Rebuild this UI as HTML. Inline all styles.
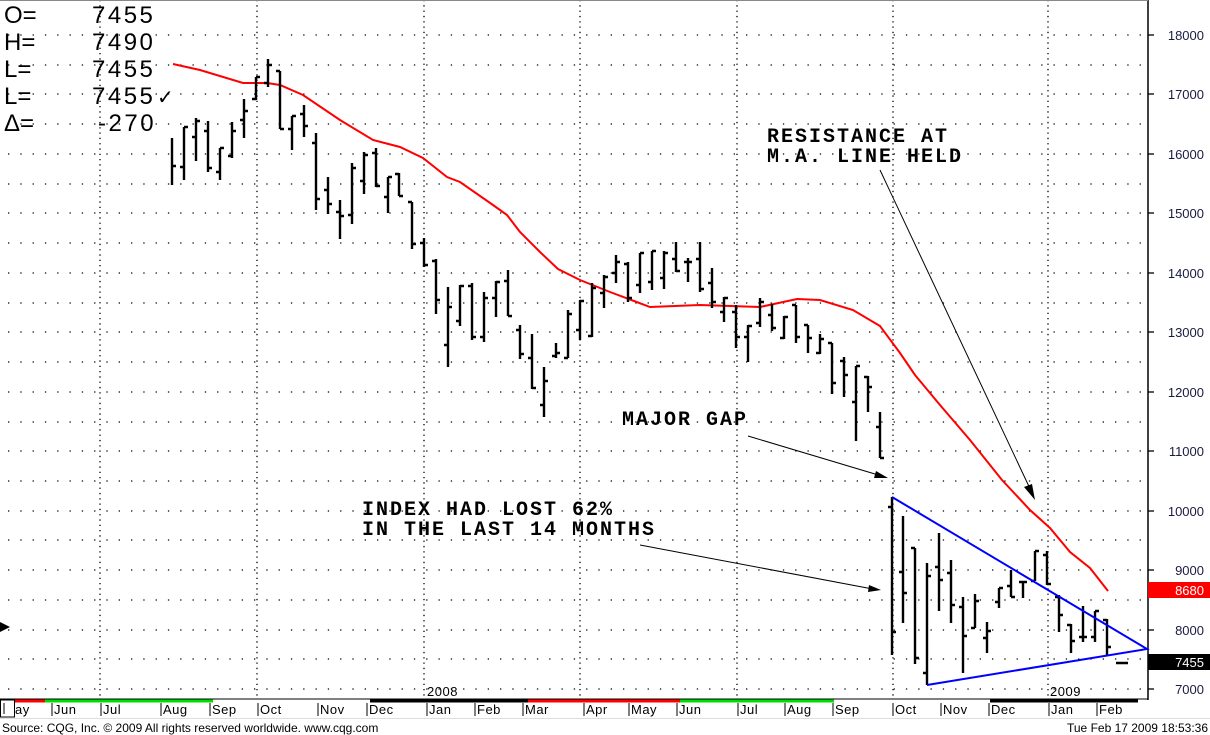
<!DOCTYPE html>
<html><head><meta charset="utf-8"><style>
html,body{margin:0;padding:0;background:#fff;width:1210px;height:735px;overflow:hidden}
svg{display:block}
.ann{font-family:"Liberation Mono",monospace;font-size:20px;font-weight:bold;letter-spacing:2px;fill:#000}
.ax{font-family:"Liberation Sans",sans-serif;font-size:13px;fill:#1a1a40}
.mo{font-family:"Liberation Sans",sans-serif;font-size:13px;fill:#000;letter-spacing:0.5px}
.ohl{font-family:"Liberation Sans",sans-serif;font-size:24px;fill:#000}
.ohv{letter-spacing:2.5px}
</style></head><body>
<svg width="1210" height="735" viewBox="0 0 1210 735" xmlns="http://www.w3.org/2000/svg">
<rect x="0" y="0" width="1210" height="735" fill="#fff"/>
<g stroke="#000" stroke-width="1.3" stroke-dasharray="1.3 4">
<line x1="100" y1="0" x2="100" y2="698"/><line x1="257" y1="0" x2="257" y2="698"/>
<line x1="424" y1="0" x2="424" y2="698"/><line x1="580" y1="0" x2="580" y2="698"/>
<line x1="737" y1="0" x2="737" y2="698"/><line x1="893" y1="0" x2="893" y2="698"/>
<line x1="1048" y1="0" x2="1048" y2="698"/>
</g>
<g stroke="#000" stroke-width="1.3" stroke-dasharray="1.3 11">
<line x1="8" y1="35" x2="1146" y2="35"/><line x1="8" y1="65" x2="1146" y2="65"/>
<line x1="8" y1="94" x2="1146" y2="94"/><line x1="8" y1="124" x2="1146" y2="124"/>
<line x1="8" y1="154" x2="1146" y2="154"/><line x1="8" y1="184" x2="1146" y2="184"/>
<line x1="8" y1="213" x2="1146" y2="213"/><line x1="8" y1="243" x2="1146" y2="243"/>
<line x1="8" y1="273" x2="1146" y2="273"/><line x1="8" y1="303" x2="1146" y2="303"/>
<line x1="8" y1="332" x2="1146" y2="332"/><line x1="8" y1="362" x2="1146" y2="362"/>
<line x1="8" y1="392" x2="1146" y2="392"/><line x1="8" y1="422" x2="1146" y2="422"/>
<line x1="8" y1="451" x2="1146" y2="451"/><line x1="8" y1="481" x2="1146" y2="481"/>
<line x1="8" y1="511" x2="1146" y2="511"/><line x1="8" y1="540" x2="1146" y2="540"/>
<line x1="8" y1="570" x2="1146" y2="570"/><line x1="8" y1="600" x2="1146" y2="600"/>
<line x1="8" y1="630" x2="1146" y2="630"/><line x1="8" y1="659" x2="1146" y2="659"/>
<line x1="8" y1="689" x2="1146" y2="689"/>
</g>
<line x1="1148" y1="0" x2="1148" y2="700" stroke="#000" stroke-width="1.5"/>
<line x1="0" y1="0.5" x2="1148" y2="0.5" stroke="#888" stroke-width="1"/>
<line x1="0" y1="699" x2="1148" y2="699" stroke="#000" stroke-width="1"/>
<g stroke="#000" stroke-width="1.3">
<line x1="1148" y1="35" x2="1154" y2="35"/><line x1="1148" y1="94" x2="1154" y2="94"/>
<line x1="1148" y1="154" x2="1154" y2="154"/><line x1="1148" y1="213" x2="1154" y2="213"/>
<line x1="1148" y1="273" x2="1154" y2="273"/><line x1="1148" y1="332" x2="1154" y2="332"/>
<line x1="1148" y1="392" x2="1154" y2="392"/><line x1="1148" y1="451" x2="1154" y2="451"/>
<line x1="1148" y1="511" x2="1154" y2="511"/><line x1="1148" y1="570" x2="1154" y2="570"/>
<line x1="1148" y1="630" x2="1154" y2="630"/><line x1="1148" y1="689" x2="1154" y2="689"/>
</g>
<g class="ax" text-anchor="end">
<text x="1204" y="40">18000</text><text x="1204" y="99">17000</text>
<text x="1204" y="159">16000</text><text x="1204" y="218">15000</text>
<text x="1204" y="278">14000</text><text x="1204" y="337">13000</text>
<text x="1204" y="397">12000</text><text x="1204" y="456">11000</text>
<text x="1204" y="516">10000</text><text x="1204" y="575">9000</text>
<text x="1204" y="635">8000</text><text x="1204" y="694">7000</text>
</g>
<rect x="1148" y="582" width="62" height="16" fill="#f00"/>
<text x="1204" y="595" text-anchor="end" font-family="Liberation Sans,sans-serif" font-size="13" fill="#fff">8680</text>
<rect x="1148" y="654" width="62" height="16" fill="#000"/>
<text x="1204" y="667" text-anchor="end" font-family="Liberation Sans,sans-serif" font-size="13" fill="#fff">7455</text>
<polyline fill="none" stroke="#f00" stroke-width="2" points="173,64 200,70 243,83 267,83 280,85 303,95 340,120 373,140 400,147 423,158 447,177 460,182 493,205 507,215 520,232 540,252 558,269 580,280 610,292 650,307 700,305 760,307 797,299 820,300 853,310 880,326 900,353 915,375 940,405 970,440 1002,480 1030,510 1050,528 1070,552 1090,568 1108,591"/>
<path fill="none" stroke="#000" stroke-width="2.4" d="
M172 138V185M172 166H176
M184 127V180M180 167H184M184 127H188
M196 118V161M192 137H196M196 121H200
M208 121V172M204 131H208M208 168H212
M220 148V180M216 172H220M220 148H224
M232 122V158M228 156H232M232 131H236
M244 99V138M240 120H244M244 111H248
M256 77V100M252 99H256M256 77H260
M268 59V87M264 83H268M268 65H272
M280 71V129M276 71H280M280 129H284
M292 116V150M288 129H292M292 116H296
M304 105V137M300 114H304M304 126H308
M316 133V210M312 143H316M316 199H320
M328 177V214M324 190H328M328 204H332
M340 200V239M336 212H340M340 216H344
M352 163V224M348 215H352M352 168H356
M364 152V194M360 181H364M364 155H368
M376 148V187M372 153H376M376 186H380
M388 177V213M384 197H388M388 177H392
M399 173V196M395 174H399M399 196H403
M412 202V249M408 202H412M412 244H416
M424 238V267M420 243H424M424 265H428
M436 259V314M432 261H436M436 300H440
M448 287V367M444 345H448M448 307H452
M460 285V326M456 321H460M460 286H464
M472 283V340M468 286H472M472 337H476
M484 292V342M480 337H484M484 298H488
M496 281V317M492 298H496M496 282H500
M508 270V316M504 281H508M508 316H512
M520 325V359M516 330H520M520 354H524
M532 334V389M528 358H532M532 388H536
M544 367V417M540 405H544M544 381H548
M556 343V358M552 356H556M556 353H560
M568 310V358M564 358H568M568 314H572
M580 300V340M576 330H580M580 301H584
M592 283V337M588 336H592M592 288H596
M604 275V308M600 293H604M604 277H608
M616 255V283M612 273H616M616 262H620
M628 262V302M624 264H628M628 298H632
M640 253V293M636 285H640M640 253H644
M652 251V290M648 282H652M652 251H656
M664 251V289M660 278H664M664 253H668
M676 242V272M672 259H676M676 271H680
M688 258V282M684 262H688M688 262H692
M700 242V292M696 259H700M700 289H704
M712 268V308M708 283H712M712 302H716
M724 297V322M720 312H724M724 298H728
M736 305V348M732 312H736M736 337H740
M748 325V362M744 337H748M748 326H752
M760 298V327M756 323H760M760 302H764
M772 304V331M768 315H772M772 328H776
M784 316V339M780 338H784M784 317H788
M796 305V343M792 305H796M796 337H800
M808 325V353M804 325H808M808 338H812
M820 334V354M816 353H820M820 339H824
M832 343V394M828 343H832M832 383H836
M844 357V397M840 361H844M844 375H848
M856 366V441M852 402H856M856 366H860
M868 376V412M864 377H868M868 387H872
M880 412V458M876 427H880M880 458H884
M892 497V655M888 507H892M892 632H896
M903 516V623M899 572H903M903 593H907
M915 548V664M911 548H915M915 658H919
M927 563V685M923 673H927M927 576H931
M939 533V611M935 567H939M939 580H943
M951 560V623M947 573H951M951 605H955
M963 597V673M959 607H963M963 636H967
M975 594V628M971 628H975M975 601H979
M987 622V653M983 638H987M987 631H991
M999 588V608M995 602H999M999 588H1003
M1011 570V597M1007 586H1011M1011 597H1015
M1023 582V598M1019 582H1027
M1035 551V581M1031 581H1035M1035 551H1039
M1047 551V585M1043 555H1047M1047 584H1051
M1059 595V632M1055 597H1059M1059 615H1063
M1071 624V653M1067 625H1071M1071 641H1075
M1083 606V642M1079 637H1087
M1095 611V642M1091 637H1095M1095 611H1099
M1107 619V655M1103 620H1107M1107 647H1111
M1116 663H1128"/>
<polyline fill="none" stroke="#00f" stroke-width="2" points="892,497 1147,649 927,685"/>
<g stroke="#000" stroke-width="1" fill="none">
<line x1="880" y1="170" x2="1033" y2="495"/>
<line x1="748" y1="436" x2="885" y2="477"/>
<line x1="640" y1="545" x2="878" y2="590"/>
</g>
<g fill="#000">
<polygon points="1035,500 1024,487 1032,484"/>
<polygon points="888,478 874,478 876,471"/>
<polygon points="881,590 868,592 869,585"/>
<polygon points="0,622 10,627 0,632"/>
</g>
<text class="ann" x="767" y="142">RESISTANCE AT</text>
<text class="ann" x="767" y="162">M.A. LINE HELD</text>
<text class="ann" x="622" y="425">MAJOR GAP</text>
<text class="ann" x="362" y="515">INDEX HAD LOST 62%</text>
<text class="ann" x="362" y="535">IN THE LAST 14 MONTHS</text>
<g class="ohl">
<text x="4" y="23">O=</text><text x="4" y="50">H=</text><text x="4" y="77">L=</text><text x="4" y="104">L=</text><text x="4" y="131">Δ=</text>
</g>
<g class="ohl ohv">
<text x="92" y="23">7455</text><text x="92" y="50">7490</text><text x="92" y="77">7455</text><text x="92" y="104">7455</text><text x="98" y="131">-270</text>
</g>
<text x="157" y="104" font-family="DejaVu Sans,sans-serif" font-size="20" fill="#000">✓</text>
<text x="427" y="696" class="mo">2008</text>
<text x="1050" y="696" class="mo">2009</text>
<g stroke-width="3">
<line x1="14" y1="701" x2="45" y2="701" stroke="#f00"/>
<line x1="45" y1="701" x2="213" y2="701" stroke="#0d0"/>
<line x1="213" y1="701" x2="370" y2="701" stroke="#fff"/>
<line x1="370" y1="701" x2="528" y2="701" stroke="#000"/>
<line x1="528" y1="701" x2="680" y2="701" stroke="#f00"/>
<line x1="680" y1="701" x2="834" y2="701" stroke="#0d0"/>
<line x1="834" y1="701" x2="990" y2="701" stroke="#fff"/>
<line x1="990" y1="701" x2="1138" y2="701" stroke="#000"/>
</g>
<rect x="0.5" y="700" width="14" height="17" fill="#fff" stroke="#000" stroke-width="1"/>
<line x1="4" y1="703" x2="4" y2="714" stroke="#000" stroke-width="1"/>
<g stroke="#000" stroke-width="1">
<line x1="52" y1="703" x2="52" y2="716"/><line x1="101" y1="703" x2="101" y2="716"/>
<line x1="161" y1="703" x2="161" y2="716"/><line x1="210" y1="703" x2="210" y2="716"/>
<line x1="258" y1="703" x2="258" y2="716"/><line x1="318" y1="703" x2="318" y2="716"/>
<line x1="367" y1="703" x2="367" y2="716"/><line x1="427" y1="703" x2="427" y2="716"/>
<line x1="475" y1="703" x2="475" y2="716"/><line x1="523" y1="703" x2="523" y2="716"/>
<line x1="584" y1="703" x2="584" y2="716"/><line x1="629" y1="703" x2="629" y2="716"/>
<line x1="677" y1="703" x2="677" y2="716"/><line x1="738" y1="703" x2="738" y2="716"/>
<line x1="785" y1="703" x2="785" y2="716"/><line x1="833" y1="703" x2="833" y2="716"/>
<line x1="893" y1="703" x2="893" y2="716"/><line x1="941" y1="703" x2="941" y2="716"/>
<line x1="989" y1="703" x2="989" y2="716"/><line x1="1049" y1="703" x2="1049" y2="716"/>
<line x1="1097" y1="703" x2="1097" y2="716"/>
</g>
<g class="mo">
<text x="15" y="714">ay</text><text x="54" y="714">Jun</text><text x="103" y="714">Jul</text>
<text x="163" y="714">Aug</text><text x="212" y="714">Sep</text><text x="260" y="714">Oct</text>
<text x="320" y="714">Nov</text><text x="369" y="714">Dec</text><text x="429" y="714">Jan</text>
<text x="477" y="714">Feb</text><text x="525" y="714">Mar</text><text x="586" y="714">Apr</text>
<text x="631" y="714">May</text><text x="679" y="714">Jun</text><text x="740" y="714">Jul</text>
<text x="787" y="714">Aug</text><text x="835" y="714">Sep</text><text x="895" y="714">Oct</text>
<text x="943" y="714">Nov</text><text x="991" y="714">Dec</text><text x="1051" y="714">Jan</text>
<text x="1099" y="714">Feb</text>
</g>
<line x1="0" y1="718.5" x2="1210" y2="718.5" stroke="#ddd" stroke-width="1"/>
<text x="2" y="732" font-family="Liberation Sans,sans-serif" font-size="12" fill="#000">Source: CQG, Inc. © 2009 All rights reserved worldwide. www.cqg.com</text>
<text x="1208" y="732" text-anchor="end" font-family="Liberation Sans,sans-serif" font-size="12" fill="#000">Tue Feb 17 2009 18:53:36</text>
</svg>
</body></html>
